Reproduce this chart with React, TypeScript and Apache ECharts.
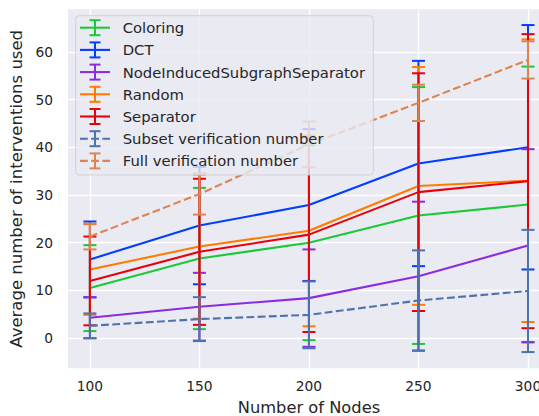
import React, { useEffect, useRef } from "react";
import * as echarts from "echarts";

const nodes = [100, 150, 200, 250, 300];
const xTicks = [100, 150, 200, 250, 300];
const yTicks = [0, 10, 20, 30, 40, 50, 60];

const seriesNames = [
  "Coloring",
  "DCT",
  "NodeInducedSubgraphSeparator",
  "Random",
  "Separator",
  "Subset verification number",
  "Full verification number",
];

const coloringMean = [10.5, 16.7, 20.0, 25.7, 28.0];
const coloringStd = [9.0, 14.8, 20.4, 26.9, 28.9];
const dctMean = [16.5, 23.6, 27.9, 36.6, 40.0];
const dctStd = [7.95, 12.3, 15.9, 21.5, 25.6];
const nodeMean = [4.3, 6.6, 8.4, 13.0, 19.4];
const nodeStd = [4.3, 7.1, 10.2, 15.6, 20.2];
const randomMean = [14.4, 19.2, 22.5, 31.9, 33.0];
const randomStd = [9.5, 15.1, 20.0, 24.9, 29.6];
const separatorMean = [12.0, 18.1, 21.7, 30.6, 32.9];
const separatorStd = [9.3, 15.3, 20.4, 24.9, 30.8];
const subsetMean = [2.6, 4.0, 4.9, 7.9, 9.9];
const subsetStd = [2.6, 4.6, 7.0, 10.5, 12.8];
const fullMean = [21.3, 30.2, 40.6, 49.3, 58.3];
const fullStd = [2.7, 4.3, 4.8, 3.8, 3.9];

const means = [coloringMean, dctMean, nodeMean, randomMean, separatorMean, subsetMean, fullMean];
const stds = [coloringStd, dctStd, nodeStd, randomStd, separatorStd, subsetStd, fullStd];
const colors = ["#1ac938", "#023eff", "#8b2be2", "#ff7c00", "#e8000b", "#4c72b0", "#dd8452"];
const dashed = [false, false, false, false, false, true, true];

const FONT = "DejaVu Sans";
const TEXT = "#262626";
const DASH = [7.8, 3.4];
const LW = 2.1;

export default function App() {
  const ref = useRef<HTMLDivElement>(null);
  useEffect(() => {
    if (!ref.current) return;
    const chart = echarts.init(ref.current, null, { renderer: "svg" });

    const series: any[] = [];
    seriesNames.forEach((name, i) => {
      const color = colors[i];
      series.push({
        type: "line",
        name,
        data: nodes.map((x, j) => [x, means[i][j]]),
        showSymbol: false,
        symbol: "none",
        z: 2 + i,
        lineStyle: { color, width: LW, type: dashed[i] ? DASH : "solid" },
      });
      series.push({
        type: "custom",
        name: name + " err",
        data: nodes.map((x, j) => [x, means[i][j] - stds[i][j], means[i][j] + stds[i][j]]),
        encode: { x: 0, y: [1, 2] },
        z: 2 + i,
        renderItem: (params: any, api: any) => {
          const x = api.value(0);
          const lo = api.value(1);
          const hi = api.value(2);
          const top = api.coord([x, hi]);
          const bot = api.coord([x, lo]);
          const hw = 6.5;
          const st = { stroke: color, lineWidth: 2 };
          return {
            type: "group",
            children: [
              { type: "line", shape: { x1: top[0], y1: top[1], x2: bot[0], y2: bot[1] }, style: st },
              { type: "line", shape: { x1: top[0] - hw, y1: top[1], x2: top[0] + hw, y2: top[1] }, style: st },
              { type: "line", shape: { x1: bot[0] - hw, y1: bot[1], x2: bot[0] + hw, y2: bot[1] }, style: st },
            ],
          };
        },
      });
    });

    // legend drawn with graphics (errorbar handles)
    const lgX = 75.7, lgY = 15.7, lgW = 297.6, lgH = 159.3;
    const row0 = 27.7, rowStep = 22.2;
    const ZL = 100;
    const legendChildren: any[] = [
      {
        type: "rect",
        z: ZL,
        shape: { x: lgX, y: lgY, width: lgW, height: lgH, r: 3.5 },
        style: { fill: "rgba(234,234,242,0.8)", stroke: "rgba(204,204,204,0.8)", lineWidth: 1 },
      },
    ];
    seriesNames.forEach((name, i) => {
      const cy = row0 + i * rowStep;
      const c = colors[i];
      legendChildren.push({
        type: "line",
        z: ZL + 1,
        shape: { x1: 80, y1: cy, x2: 110, y2: cy },
        style: { stroke: c, lineWidth: LW, lineDash: dashed[i] ? DASH : null },
      });
      legendChildren.push({
        type: "line",
        z: ZL + 1,
        shape: { x1: 95, y1: cy - 7.5, x2: 95, y2: cy + 7.5 },
        style: { stroke: c, lineWidth: 2 },
      });
      legendChildren.push({
        type: "line",
        z: ZL + 1,
        shape: { x1: 89.5, y1: cy - 7.5, x2: 100.5, y2: cy - 7.5 },
        style: { stroke: c, lineWidth: 2 },
      });
      legendChildren.push({
        type: "line",
        z: ZL + 1,
        shape: { x1: 89.5, y1: cy + 7.5, x2: 100.5, y2: cy + 7.5 },
        style: { stroke: c, lineWidth: 2 },
      });
      legendChildren.push({
        type: "text",
        z: ZL + 1,
        x: 122.7,
        y: cy,
        style: {
          text: name,
          fill: TEXT,
          fontSize: 14.8,
          fontFamily: FONT,
          verticalAlign: "middle",
          align: "left",
        },
      });
    });

    chart.setOption({
      animation: false,
      backgroundColor: "#ffffff",
      grid: {
        left: 68,
        top: 9.3,
        width: 481.9,
        height: 359,
        show: true,
        backgroundColor: "#eaeaf2",
        borderWidth: 0,
        containLabel: false,
        outerBoundsMode: "none",
      },
      xAxis: {
        type: "value",
        min: 90,
        max: 310,
        name: "Number of Nodes",
        nameLocation: "middle",
        nameGap: 31,
        nameTextStyle: { color: TEXT, fontSize: 16.3, fontFamily: FONT },
        axisLine: { show: false },
        axisTick: { show: false, customValues: xTicks },
        axisLabel: { customValues: xTicks, color: TEXT, fontSize: 13.8, fontFamily: FONT, margin: 11 },
        splitLine: { show: true, lineStyle: { color: "#ffffff", width: 1.3 } },
      },
      yAxis: {
        type: "value",
        min: -6.3,
        max: 68.9,
        name: "Average number of interventions used",
        nameLocation: "middle",
        nameGap: 42,
        nameTextStyle: { color: TEXT, fontSize: 16.5, fontFamily: FONT },
        axisLine: { show: false },
        axisTick: { show: false, customValues: yTicks },
        axisLabel: { customValues: yTicks, color: TEXT, fontSize: 13.8, fontFamily: FONT, margin: 15 },
        splitLine: { show: true, lineStyle: { color: "#ffffff", width: 1.3 } },
      },
      series,
      graphic: legendChildren,
    });
    return () => chart.dispose();
  }, []);
  return (
    <div
      ref={ref}
      style={{ position: "fixed", left: 0, top: 0, width: 539, height: 416 }}
    />
  );
}
